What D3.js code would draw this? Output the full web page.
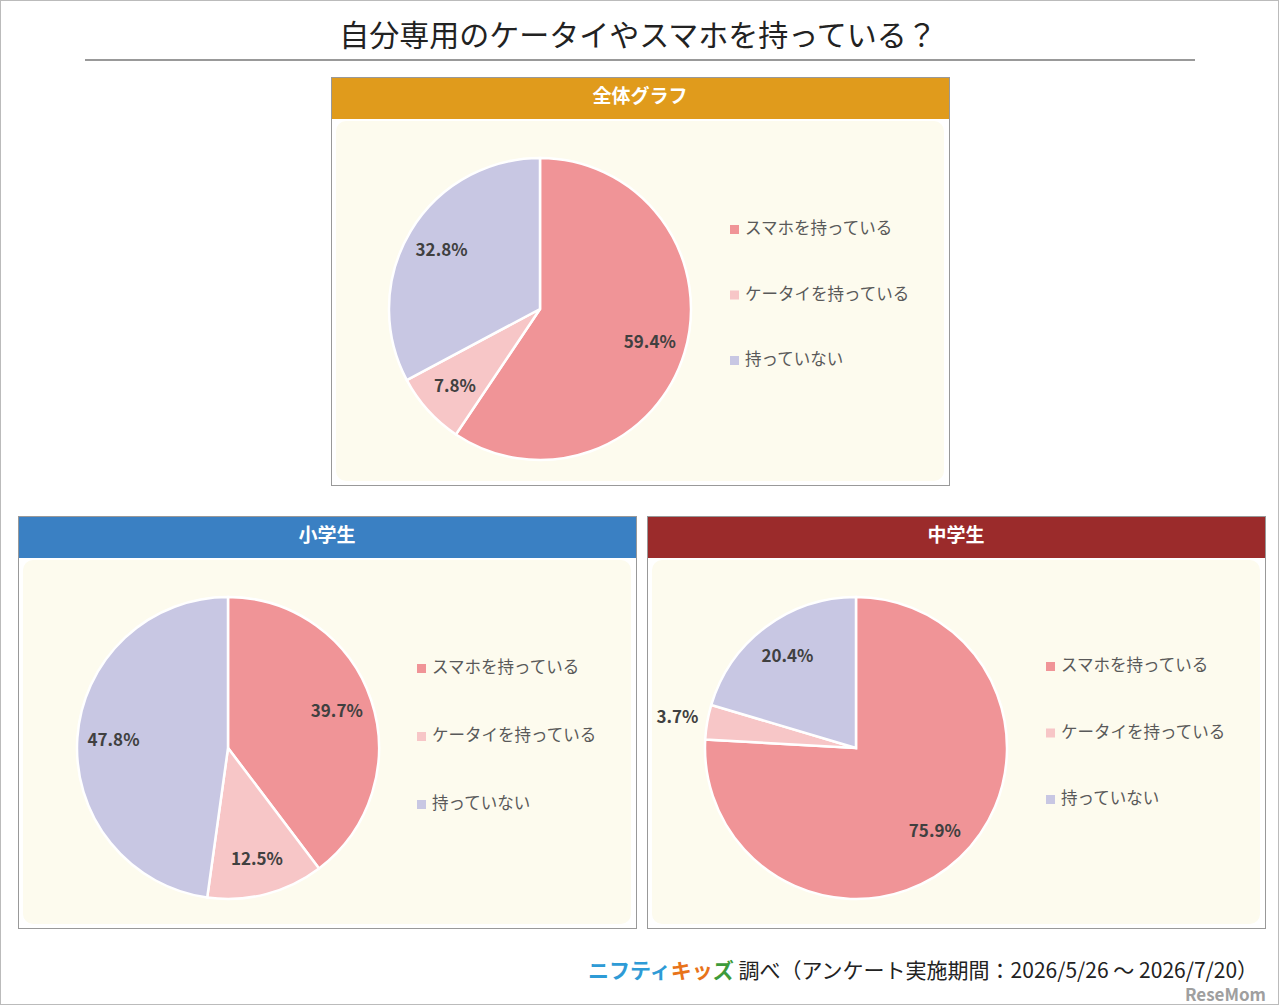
<!DOCTYPE html>
<html><head><meta charset="utf-8">
<script src="https://cdn.jsdelivr.net/npm/d3@7"></script>
<style>body{margin:0;background:#fff}text{font-family:"Noto Sans CJK JP","Noto Sans",sans-serif}</style>
</head><body>
<svg width="1280" height="1006"></svg>
<script>
var categories = ["スマホを持っている", "ケータイを持っている", "持っていない"];
var colors = ["#F09497", "#F7C6C7", "#C8C7E3"];
var totalValues = [59.4, 7.8, 32.8];
var elementaryValues = [39.7, 12.5, 47.8];
var juniorValues = [75.9, 3.7, 20.4];

var svg = d3.select("svg");

svg.append("rect").attr("x", 0.5).attr("y", 0.5).attr("width", 1278).attr("height", 1004)
  .attr("fill", "#fff").attr("stroke", "#bbb");

svg.append("text").attr("x", 638).attr("y", 46).attr("text-anchor", "middle")
  .attr("font-size", 30).attr("fill", "#222").text("自分専用のケータイやスマホを持っている？");
svg.append("line").attr("x1", 85).attr("x2", 1195).attr("y1", 60).attr("y2", 60)
  .attr("stroke", "#777").attr("stroke-width", 1.5);

var panels = [
  {title: "全体グラフ", values: totalValues, x: 331, y: 77, head: "#E09B1C", cx: 540, legendX: 730, legendY: 229, gap: 65.5},
  {title: "小学生", values: elementaryValues, x: 18, y: 516, head: "#3A80C3", cx: 228, legendX: 417, legendY: 668, gap: 68},
  {title: "中学生", values: juniorValues, x: 647, y: 516, head: "#9B2B2B", cx: 856, legendX: 1046, legendY: 666, gap: 66.5}
];

var r = 151;
var pie = d3.pie().sort(null).value(function(d) { return d; });
var arc = d3.arc().innerRadius(0).outerRadius(r);
var labelArc = d3.arc().innerRadius(r * 0.76).outerRadius(r * 0.76);
var outArc = d3.arc().innerRadius(r * 1.2).outerRadius(r * 1.2);

panels.forEach(function(p) {
  var h = p.y === 77 ? 408 : 412;
  var g = svg.append("g");
  g.append("rect").attr("x", p.x + 0.5).attr("y", p.y + 0.5).attr("width", 618).attr("height", h)
    .attr("fill", "#fff").attr("stroke", "#999");
  g.append("rect").attr("x", p.x + 5).attr("y", p.y + 44).attr("width", 608).attr("height", h - 48)
    .attr("rx", 10).attr("fill", "#FDFBEE");
  g.append("rect").attr("x", p.x + 1).attr("y", p.y + 1).attr("width", 617).attr("height", 41)
    .attr("fill", p.head);
  g.append("text").attr("x", p.x + 309).attr("y", p.y + 26).attr("text-anchor", "middle")
    .attr("font-size", 19).attr("font-weight", "bold").attr("fill", "#fff").text(p.title);

  var cy = p.y + 232;
  var pg = g.append("g").attr("transform", "translate(" + p.cx + "," + cy + ")");
  var arcs = pie(p.values);
  pg.selectAll("path").data(arcs).enter().append("path")
    .attr("d", arc).attr("fill", function(d, i) { return colors[i]; })
    .attr("stroke", "#fff").attr("stroke-width", 2.5);
  pg.selectAll("text").data(arcs).enter().append("text")
    .attr("transform", function(d) {
      var c = d.data < 5 ? outArc.centroid(d) : labelArc.centroid(d);
      return "translate(" + c + ")";
    })
    .attr("text-anchor", "middle").attr("dy", "0.35em")
    .attr("font-size", 17).attr("font-weight", "bold").attr("fill", "#404040")
    .text(function(d) { return d.data.toFixed(1) + "%"; });

  categories.forEach(function(c, i) {
    var ly = p.legendY + i * p.gap;
    g.append("rect").attr("x", p.legendX).attr("y", ly - 4).attr("width", 9).attr("height", 9).attr("fill", colors[i]);
    g.append("text").attr("x", p.legendX + 15).attr("y", ly + 5).attr("font-size", 16.5).attr("fill", "#595959").text(c);
  });
});

var foot = svg.append("text").attr("x", 588).attr("y", 978).attr("font-size", 21).attr("fill", "#222");
foot.append("tspan").attr("fill", "#2E9BD6").attr("font-weight", "bold").text("ニフティ");
foot.append("tspan").attr("fill", "#E8731A").attr("font-weight", "bold").text("キッ");
foot.append("tspan").attr("fill", "#3E9B3A").attr("font-weight", "bold").text("ズ");
foot.append("tspan").text(" 調べ（アンケート実施期間：2026/5/26 ～ 2026/7/20）");
svg.append("text").attr("x", 1266).attr("y", 1001).attr("text-anchor", "end").attr("font-size", 17)
  .attr("font-weight", "bold").attr("fill", "#888").attr("opacity", 0.8).attr("font-family", "DejaVu Sans Condensed").text("ReseMom");
</script>
</body></html>
